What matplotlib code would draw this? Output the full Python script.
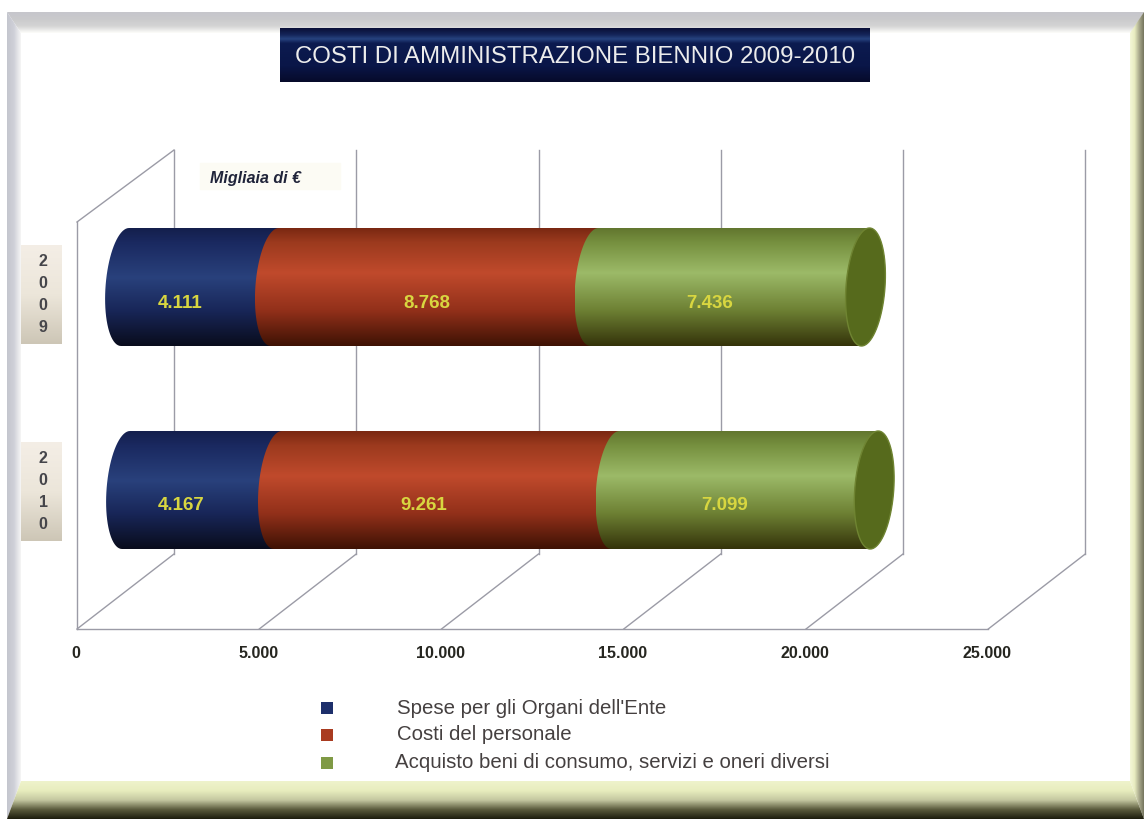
import numpy as np
import matplotlib
matplotlib.use('Agg')
import matplotlib.pyplot as plt
from matplotlib.colors import LinearSegmentedColormap
from matplotlib.patches import PathPatch, Rectangle, Polygon
from matplotlib.path import Path

years = ['2009', '2010']
series = ["Spese per gli Organi dell'Ente", 'Costi del personale',
          'Acquisto beni di consumo, servizi e oneri diversi']
spese = [4111, 4167]
personale = [8768, 9261]
acquisto = [7436, 7099]
value_labels = [['4.111', '8.768', '7.436'], ['4.167', '9.261', '7.099']]
ticks = [0, 5000, 10000, 15000, 20000, 25000]
tick_labels = ['0', '5.000', '10.000', '15.000', '20.000', '25.000']

W, H = 1144, 819
XS = 0.03645   # px per euro-thousand
YS = 203.0     # px between the two bars
X0, Y0 = 77, 287

grads = [
    [(0, '#141f4c'), (0.12, '#1a2960'), (0.42, '#29417c'), (0.7, '#182658'), (1, '#090c1c')],
    [(0, '#7a2812'), (0.12, '#9c3a1e'), (0.38, '#c04a2c'), (0.7, '#92301a'), (1, '#3e1204')],
    [(0, '#62762f'), (0.12, '#76903f'), (0.38, '#9cba68'), (0.7, '#6d8033'), (1, '#34330a')],
]
text_yellow = '#d8d640'
line_col = '#9b9ba6'

fig = plt.figure(figsize=(W / 100, H / 100), dpi=100, facecolor='white')

# frame and title live in a plain pixel axes underneath
bg = fig.add_axes([0, 0, 1, 1], zorder=0)
bg.set_xlim(0, W)
bg.set_ylim(H, 0)
bg.axis('off')


def grad_poly(axx, pts, colors, horizontal=False, z=1):
    xs = [p[0] for p in pts]
    ys = [p[1] for p in pts]
    cm = LinearSegmentedColormap.from_list('g', colors)
    g = np.linspace(0, 1, 256)
    g = g.reshape(1, -1) if horizontal else g.reshape(-1, 1)
    im = axx.imshow(g, cmap=cm, extent=[min(xs), max(xs), max(ys), min(ys)],
                    aspect='auto', zorder=z, origin='upper', vmin=0, vmax=1)
    im.set_clip_path(Polygon(pts, closed=True, transform=axx.transData))


grad_poly(bg, [(7, 12), (1144, 12), (1132, 33), (21, 33)], ['#c6c6cc', '#cacacc', '#d4d4d4', '#fdfdfa'])
grad_poly(bg, [(7, 12), (21, 33), (21, 781), (7, 819)], ['#c4c6ce', '#cfd0d8', '#f6f6f6'], horizontal=True)
grad_poly(bg, [(1144, 12), (1144, 819), (1130, 781), (1130, 33)],
          ['#f4f7d8', '#e8ecc0', '#a8a88c', '#74745c'], horizontal=True)
grad_poly(bg, [(7, 819), (21, 781), (1130, 781), (1144, 819)],
          ['#eff3cc', '#e8edbe', '#c4c7a0', '#5a5a3c', '#1c1c0c'], z=2)

# title box
grad_poly(bg, [(280, 28), (870, 28), (870, 82), (280, 82)],
          [(0, '#090f36'), (0.12, '#142458'), (0.2, '#26437f'), (0.28, '#0c1b50'), (0.7, '#0a1648'), (1, '#060a2a')], z=2)
bg.text(575, 57, 'COSTI DI AMMINISTRAZIONE BIENNIO 2009-2010', color='#ececec', fontsize=17.3,
        family='Liberation Sans', ha='center', va='center', zorder=3)

bg.add_patch(Rectangle((200, 163), 140, 26, color='#fcfbf4', zorder=1))
bg.text(210, 178, 'Migliaia di €', color='#20243a', fontsize=11.5, family='Liberation Sans',
        weight='bold', style='italic', ha='left', va='center', zorder=3)

# chart axes: x is the euro scale, y the category position
ax = fig.add_axes([0, 0, 1, 1], zorder=1)
ax.patch.set_alpha(0)
ax.axis('off')

DX = 97 / XS       # depth offset of back wall
FLOOR = (629 - Y0) / YS
BACK_FLOOR = (554 - Y0) / YS
TOP = (150 - Y0) / YS
LEFT_TOP = (222 - Y0) / YS

for t, lab in zip(ticks, tick_labels):
    ax.plot([t, t + DX], [FLOOR, BACK_FLOOR], color=line_col, lw=1, zorder=1)
    ax.plot([t + DX, t + DX], [BACK_FLOOR, TOP], color=line_col, lw=1, zorder=1)
    ax.text(t - 1 / XS, FLOOR + 24 / YS, lab, color='#262620', fontsize=11.5, family='Liberation Sans',
            weight='bold', ha='center', va='center', zorder=5)
ax.plot([ticks[0], ticks[-1]], [FLOOR, FLOOR], color=line_col, lw=1, zorder=1)
ax.plot([0, 0], [FLOOR, LEFT_TOP], color=line_col, lw=1, zorder=1)
ax.plot([0, DX], [LEFT_TOP, TOP], color=line_col, lw=1, zorder=1)

# cylinders
RX = 19.5 / XS
SKEW = 4 / XS
RY = 59 / YS
BAR_SHIFT = [48 / XS, 49 / XS]


def arc(cx, cy, t0, t1, n=40):
    t = np.linspace(t0, t1, n)
    return np.column_stack([cx + RX * np.cos(t) - SKEW * np.sin(t), cy + RY * np.sin(t)])


rows = np.column_stack([spese, personale, acquisto])
nudges = [[-20, -8, -20], [-21, -23, -20]]
z = 3
for i, year in enumerate(years):
    start = BAR_SHIFT[i]
    for j, val in enumerate(rows[i]):
        end = start + val
        # left arc of this segment runs top->bottom through the left side, right arc back up
        left = arc(start, i, 3 * np.pi / 2, np.pi / 2)
        right = arc(end, i, np.pi / 2, -np.pi / 2)
        pts = np.vstack([left, right])
        cm = LinearSegmentedColormap.from_list('c%d' % j, grads[j])
        im = ax.imshow(np.linspace(0, 1, 256).reshape(-1, 1), cmap=cm, aspect='auto', origin='upper',
                       extent=[pts[:, 0].min(), pts[:, 0].max(), i + RY, i - RY], zorder=z)
        im.set_clip_path(PathPatch(Path(pts), transform=ax.transData))
        mid = (start + end) / 2 + nudges[i][j] / XS
        ax.text(mid, i + 16 / YS, value_labels[i][j], color=text_yellow, fontsize=13.5,
                family='Liberation Sans', weight='bold', ha='center', va='center', zorder=6)
        if j == 2:
            cap = arc(end, i, 0, 2 * np.pi, 80)
            ax.fill(cap[:, 0], cap[:, 1], facecolor='#566a1c', edgecolor='#6f8432', lw=1, zorder=z + 1)
        start = end
        z += 0.01

# year boxes
box_cols = ['#f4eee6', '#ece6da', '#cdc6b6']
for i, year in enumerate(years):
    cy = Y0 + i * YS
    top = cy - 42 if i == 0 else cy - 48
    grad_poly(bg, [(21, top), (62, top), (62, top + 99), (21, top + 99)], box_cols, z=2)
    ax.text((43 - X0) / XS, (top + 49.5 - Y0) / YS, '\n'.join(year), color='#45454a', fontsize=11.5,
            family='Liberation Sans', weight='bold', ha='center', va='center', linespacing=1.6, zorder=6)

# legend
leg_cols = ['#1d2f6b', '#a93b20', '#7f9a45']
leg_y = [708, 735, 763]
leg_tx = [397, 397, 395]
for name, col, y, tx in zip(series, leg_cols, leg_y, leg_tx):
    yy = (y - Y0) / YS
    ax.scatter([(326.5 - X0) / XS], [yy], marker='s', s=85, color=col, zorder=6, linewidths=0)
    ax.text((tx - X0) / XS, yy, name, color='#454040', fontsize=14.7, family='Liberation Sans',
            ha='left', va='center', zorder=6)

ax.set_xlim(-X0 / XS, (W - X0) / XS)
ax.set_ylim((H - Y0) / YS, -Y0 / YS)
bg.set_xlim(0, W)
bg.set_ylim(H, 0)

fig.savefig('out.png', dpi=100, facecolor='white')
